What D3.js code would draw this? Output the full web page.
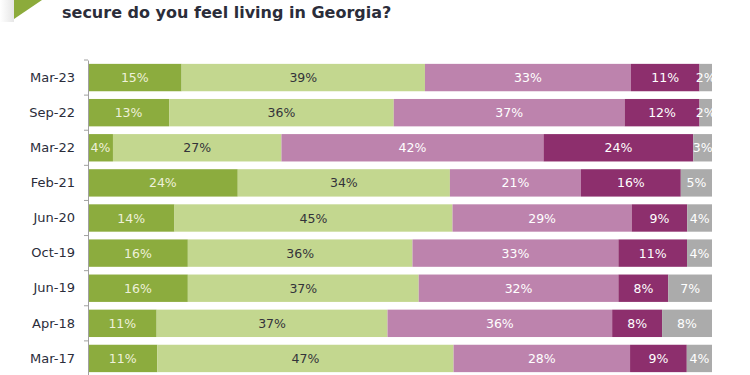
<!doctype html>
<html>
<head>
<meta charset="utf-8">
<script src="https://cdn.jsdelivr.net/npm/d3@7"></script>
<style>
  body { margin: 0; background: #fff; }
  text { font-family: "DejaVu Sans", Verdana, sans-serif; }
</style>
</head>
<body>
<script>
// survey waves, top to bottom
var waves = ["Mar-23", "Sep-22", "Mar-22", "Feb-21", "Jun-20", "Oct-19", "Jun-19", "Apr-18", "Mar-17"];

// answer categories, left to right
var answers = ["veryInsecure", "insecure", "secure", "verySecure", "dk"];

// percentages per answer, same order as waves
var veryInsecure = [15, 13, 4, 24, 14, 16, 16, 11, 11];
var insecure     = [39, 36, 27, 34, 45, 36, 37, 37, 47];
var secure       = [33, 37, 42, 21, 29, 33, 32, 36, 28];
var verySecure   = [11, 12, 24, 16, 9, 11, 8, 8, 9];
var dk           = [2, 2, 3, 5, 4, 4, 7, 8, 4];

var colors = {
  veryInsecure: "#8cac3e",
  insecure: "#c3d78f",
  secure: "#bd83ad",
  verySecure: "#8d2f6d",
  dk: "#ababab"
};
var textColors = {
  veryInsecure: "#eef1da",
  insecure: "#33333a",
  secure: "#ffffff",
  verySecure: "#ffffff",
  dk: "#ffffff"
};

var width = 750, height = 375;
var margin = {top: 60, right: 38, bottom: 0, left: 88};

var rows = waves.map(function(w, i) {
  return {
    wave: w,
    veryInsecure: veryInsecure[i],
    insecure: insecure[i],
    secure: secure[i],
    verySecure: verySecure[i],
    dk: dk[i]
  };
});

var series = d3.stack()
    .keys(answers)
    .offset(d3.stackOffsetExpand)(rows);

var x = d3.scaleLinear().domain([0, 1]).range([margin.left, width - margin.right]);
var y = d3.scaleBand().domain(waves)
    .range([margin.top, height + 1])
    .paddingInner(0.22)
    .paddingOuter(0.11);

var svg = d3.select("body").append("svg")
    .attr("width", width)
    .attr("height", height);

// header decoration
var grad = svg.append("defs").append("linearGradient")
    .attr("id", "shade")
    .attr("x1", 0).attr("x2", 1).attr("y1", 0).attr("y2", 0);
grad.append("stop").attr("offset", 0).attr("stop-color", "#ffffff");
grad.append("stop").attr("offset", 1).attr("stop-color", "#e6e6e6");

svg.append("rect")
    .attr("x", 0).attr("y", 0)
    .attr("width", 14).attr("height", 22)
    .attr("fill", "url(#shade)");

svg.append("path")
    .attr("d", "M14,0 L42,0 L14,19 Z")
    .attr("fill", "#8cab3b");

svg.append("text")
    .attr("x", 62)
    .attr("y", 17.5)
    .attr("font-size", "16px")
    .attr("font-weight", "bold")
    .attr("fill", "#2b2d3a")
    .text("secure do you feel living in Georgia?");

svg.select("defs").append("clipPath")
    .attr("id", "plot")
  .append("rect")
    .attr("x", margin.left)
    .attr("y", 0)
    .attr("width", x(1) - margin.left)
    .attr("height", height);

var layer = svg.append("g").attr("clip-path", "url(#plot)")
  .selectAll("g")
  .data(series)
  .enter().append("g");

layer.selectAll("rect")
  .data(function(s) { return s; })
  .enter().append("rect")
    .attr("x", function(d) { return x(d[0]); })
    .attr("y", function(d) { return y(d.data.wave); })
    .attr("width", function(d) { return x(d[1]) - x(d[0]); })
    .attr("height", y.bandwidth())
    .attr("fill", function() { return colors[d3.select(this.parentNode).datum().key]; });

layer.selectAll("text")
  .data(function(s) { return s.map(function(d) { d.key = s.key; return d; }); })
  .enter().append("text")
    .attr("x", function(d) { return (x(d[0]) + x(d[1])) / 2; })
    .attr("y", function(d) { return y(d.data.wave) + y.bandwidth() / 2; })
    .attr("dy", "0.36em")
    .attr("text-anchor", "middle")
    .attr("font-size", "12.5px")
    .attr("fill", function(d) { return textColors[d.key]; })
    .text(function(d) { return d.data[d.key] + "%"; });

// category axis
var axis = svg.append("g")
    .attr("transform", "translate(" + margin.left + ",0)")
    .call(d3.axisLeft(y).tickSize(0).tickPadding(13));

axis.select(".domain").attr("stroke", "#a0a0a0");
axis.selectAll("text")
    .attr("font-size", "13px")
    .attr("fill", "#2b2d3a")
    .attr("font-family", "DejaVu Sans, sans-serif");

// small ticks between the bands
var step = y.step();
var edges = d3.range(waves.length + 1).map(function(i) { return margin.top + i * step; });
svg.append("g").selectAll("line")
  .data(edges)
  .enter().append("line")
    .attr("x1", margin.left - 4)
    .attr("x2", margin.left)
    .attr("y1", function(d) { return d; })
    .attr("y2", function(d) { return d; })
    .attr("stroke", "#a0a0a0");
</script>
</body>
</html>
